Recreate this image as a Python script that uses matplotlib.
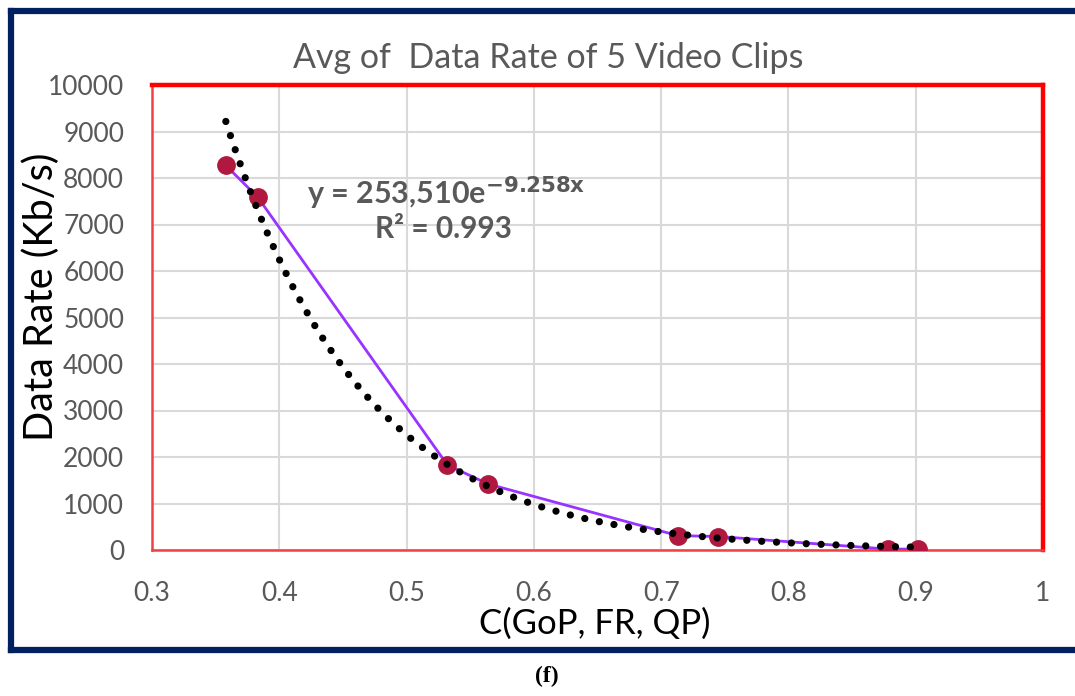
import numpy as np
import matplotlib
matplotlib.use("Agg")
import matplotlib.pyplot as plt
from matplotlib.lines import Line2D

plt.rcParams['font.family'] = ['Lato', 'DejaVu Sans']

# Data
c_values = [0.358, 0.383, 0.532, 0.564, 0.713, 0.745, 0.878, 0.902]
data_rate = [8270, 7590, 1830, 1420, 310, 290, 20, 20]
trend_a = 253510
trend_b = -9.258
x_ticks = [0.3, 0.4, 0.5, 0.6, 0.7, 0.8, 0.9, 1.0]
x_tick_labels = ['0.3', '0.4', '0.5', '0.6', '0.7', '0.8', '0.9', '1']
y_ticks = list(range(0, 10001, 1000))

W, H = 1075, 696
fig = plt.figure(figsize=(W / 100, H / 100), dpi=100)
fig.patch.set_facecolor('white')

ax = fig.add_axes([152 / W, 1 - 550 / H, (1043 - 152) / W, (550 - 85) / H])

tick_gray = '#595959'
ax.grid(True, color='#D9D9D9', lw=1.5, zorder=0)
ax.set_axisbelow(True)

# trendline (exponential fit shown on the chart)
tx = np.linspace(min(c_values), max(c_values), 400)
ty = trend_a * np.exp(trend_b * tx)
ax.plot(tx, ty, color='black', lw=5.2, linestyle=(0, (0.01, 2.05)),
        dash_capstyle='round', zorder=6)

# series
ax.plot(c_values, data_rate, color='#9933FF', lw=2, zorder=4)
ax.plot(c_values, data_rate, linestyle='none', marker='o', markersize=12.5,
        markerfacecolor='#B0183F', markeredgecolor='#B0183F', zorder=5)

ax.set_xlim(0.3, 1.0)
ax.set_ylim(0, 10000)
ax.set_xticks(x_ticks)
ax.set_xticklabels(x_tick_labels)
ax.set_yticks(y_ticks)
ax.tick_params(axis='both', length=0, labelsize=19, colors=tick_gray)
ax.tick_params(axis='y', pad=20)
ax.tick_params(axis='x', pad=22)

for side in ['top', 'right']:
    ax.spines[side].set_color('#FF0000')
    ax.spines[side].set_linewidth(3.2)
for side in ['left', 'bottom']:
    ax.spines[side].set_color('#F24040')
    ax.spines[side].set_linewidth(1.8)

ax.set_title('Avg of  Data Rate of 5 Video Clips', fontsize=24.5, color=tick_gray,
             pad=12, x=(548 - 152) / 891)
ax.set_ylabel('Data Rate (Kb/s)', fontsize=28.5, color='black')
ax.yaxis.set_label_coords((60 - 152) / 891, (550 - 297) / 465)
ax.set_xlabel('C(GoP, FR, QP)', fontsize=25, color='black', va='center')
ax.xaxis.set_label_coords((595 - 152) / 891, (550 - 624) / 465)

ax.text(0.422, 7680, r'y = 253,510e$^{\mathbf{-9.258x}}$', fontsize=22, fontweight='bold',
        color=tick_gray, ha='left', va='center')
ax.text(0.529, 6900, 'R² = 0.993', fontsize=21.5, fontweight='bold',
        color=tick_gray, ha='center', va='center')

# navy outer frame (left, top, bottom; right edge is cut off)
navy = '#002060'
lw_frame = 4.5
x0, y0, y1 = 11 / W, 1 - 650 / H, 1 - 11 / H
for xs, ys in [([x0, x0], [y0, y1]), ([x0, 1.01], [y1, y1]), ([x0, 1.01], [y0, y0])]:
    fig.add_artist(Line2D(xs, ys, transform=fig.transFigure, color=navy,
                          lw=lw_frame, solid_capstyle='projecting'))

fig.text(547 / W, 1 - 676 / H, '(f)', fontsize=17, fontweight='bold',
         family=['Liberation Serif', 'DejaVu Serif'], ha='center', va='center')

fig.savefig('out.png', dpi=100, facecolor='white')
